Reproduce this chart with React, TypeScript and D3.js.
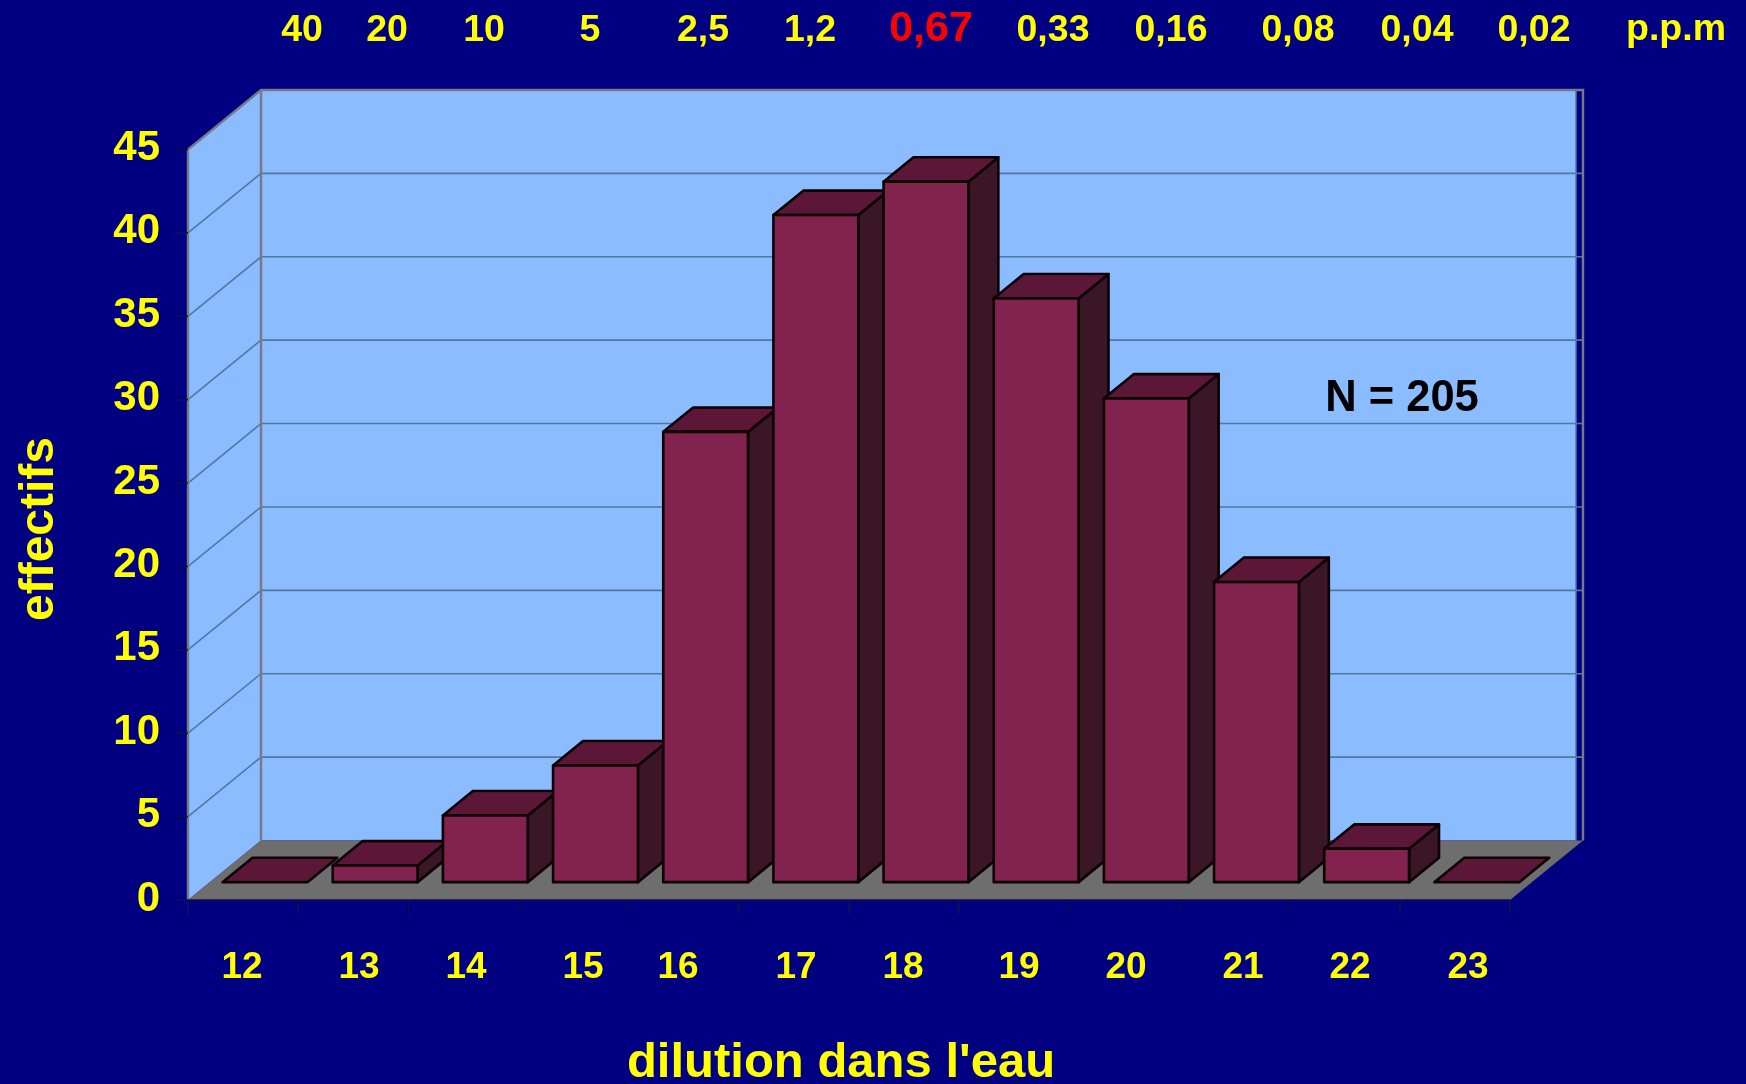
import React from "react";
import * as d3 from "d3";

const dilutions = ["12","13","14","15","16","17","18","19","20","21","22","23"];
const counts = [0,1,4,7,27,40,42,35,29,18,2,0];
const yTicks = [0,5,10,15,20,25,30,35,40,45];
const ppm = ["40","20","10","5","2,5","1,2","0,67","0,33","0,16","0,08","0,04","0,02"];
const highlighted = "0,67";

// hand-placed label centres of the original slide, in px
const ppmCenters = [302,387,484,590,703,810,931,1053,1171,1298,1417,1534];
const dilutionCenters = [242,359,466,583,678,796,903,1019,1126,1243,1350,1468];

const W = 1746, H = 1084;
const BG = "#000080", WALL = "#8abcff", FLOOR = "#6e6e6e", EDGE = "#767a88", GRID = "#55779f";
const FRONT = "#822050", TOP = "#5c1838", SIDE = "#3b1225", YEL = "#ffff00";
const FF = "'Liberation Sans', Arial, sans-serif";

const x = d3.scaleBand<string>().domain(dilutions).range([188,1510]).paddingInner(0.23).paddingOuter(0.115);
const xEdge = d3.scaleLinear().domain([0,dilutions.length]).range([188,1510]);
const y = d3.scaleLinear().domain([0,45]).range([900,149.5]);
const DX = 73, DY = -59.5;
const Z_FRONT = 0.3, Z_BACK = 0.71;
const P = (px:number, py:number, z:number):[number,number] => [px+DX*z, py+DY*z];
const poly = (pts:[number,number][]) => (d3.line()(pts) as string) + "Z";

export default function App() {
  const x0 = xEdge(0), x1 = xEdge(dilutions.length), y0 = y(0), yTop = y(45);
  return (
    <svg width={W} height={H} viewBox={`0 0 ${W} ${H}`} style={{position:"absolute",left:0,top:0,background:BG,fontFamily:FF,fontWeight:700}}>
      <defs>
        <filter id="soft" x="0" y="0" width="100%" height="100%" filterUnits="userSpaceOnUse" primitiveUnits="userSpaceOnUse">
          <feGaussianBlur stdDeviation="0.55"/>
        </filter>
      </defs>
      <rect width={W} height={H} fill={BG}/>
      <g filter="url(#soft)">
      {/* left wall */}
      <path d={poly([P(x0,y0,0),P(x0,yTop,0),P(x0,yTop,1),P(x0,y0,1)])} fill={WALL}/>
      {/* back wall */}
      <path d={poly([P(x0,y0,1),P(x0,yTop,1),[x1+DX-7,yTop+DY],[x1+DX-7,y0+DY]])} fill={WALL}/>
      {/* floor */}
      <path d={poly([P(x0,y0,0),P(x0,y0,1),P(x1,y0,1),P(x1,y0,0)])} fill={FLOOR}/>
      {/* grid */}
      {yTicks.filter(t=>t>0&&t<45).map(t=>(
        <path key={t} d={d3.line()([P(x0,y(t),0),P(x0,y(t),1),P(x1,y(t),1)]) as string} fill="none" stroke={GRID} strokeWidth={1.6}/>
      ))}
      {/* wall edges */}
      <path d={d3.line()([P(x0,y0,0),P(x0,yTop,0),P(x0,yTop,1),P(x1,yTop,1),P(x1,y0,1)]) as string} fill="none" stroke={EDGE} strokeWidth={2.4}/>
      <path d={d3.line()([P(x0,y0,1),P(x0,yTop,1)]) as string} fill="none" stroke={EDGE} strokeWidth={2.4}/>
      <path d={d3.line()([[x1+DX-7,yTop+DY],[x1+DX-7,y0+DY]]) as string} fill="none" stroke={GRID} strokeWidth={1.5}/>
      <path d={d3.line()([P(x0,y0,0),P(x1,y0,0)]) as string} fill="none" stroke="#10103a" strokeWidth={1.5}/>
      {/* ticks */}
      {yTicks.map(t=>(
        <line key={t} x1={x0-13} x2={x0} y1={y(t)} y2={y(t)} stroke="#10104a" strokeWidth={1.6}/>
      ))}
      {d3.range(dilutions.length+1).map(i=>(
        <line key={i} x1={xEdge(i)} x2={xEdge(i)} y1={y0} y2={y0+15} stroke="#10104a" strokeWidth={1.5}/>
      ))}
      {/* bars */}
      {dilutions.map((d,i)=>{
        const l = x(d)!, r = l + x.bandwidth(), b = y(0), t = y(counts[i]);
        const stroke = {stroke:"#080105",strokeWidth:2.6,strokeLinejoin:"round" as const};
        return (
          <g key={d}>
            {counts[i]>0 && <path d={poly([P(r,b,Z_FRONT),P(r,t,Z_FRONT),P(r,t,Z_BACK),P(r,b,Z_BACK)])} fill={SIDE} {...stroke}/>}
            <path d={poly([P(l,t,Z_FRONT),P(l,t,Z_BACK),P(r,t,Z_BACK),P(r,t,Z_FRONT)])} fill={TOP} {...stroke}/>
            {counts[i]>0 && <path d={poly([P(l,b,Z_FRONT),P(l,t,Z_FRONT),P(r,t,Z_FRONT),P(r,b,Z_FRONT)])} fill={FRONT} {...stroke}/>}
          </g>
        );
      })}
      {/* y tick labels */}
      {yTicks.map(t=>(
        <text key={t} x={160} y={y(t)+10.5} textAnchor="end" fontSize={42} fill={YEL}>{t}</text>
      ))}
      {/* x tick labels */}
      {dilutions.map((d,i)=>(
        <text key={d} x={dilutionCenters[i]} y={978} textAnchor="middle" fontSize={37} fill={YEL}>{d}</text>
      ))}
      {/* ppm labels */}
      {ppm.map((p,i)=>(
        <text key={p} x={ppmCenters[i]} y={p===highlighted?41:40.5} textAnchor="middle" fontSize={p===highlighted?43:37.5} fill={p===highlighted?"#ff0000":YEL}>{p}</text>
      ))}
      <text x={1676} y={40} textAnchor="middle" fontSize={37.5} fill={YEL}>p.p.m</text>
      <text x={1402} y={411} textAnchor="middle" fontSize={43.5} fill="#000">N = 205</text>
      <text x={841} y={1077} textAnchor="middle" fontSize={49} fill={YEL}>dilution dans l'eau</text>
      <text transform="translate(53,529) rotate(-90)" textAnchor="middle" fontSize={48} fill={YEL}>effectifs</text>
      </g>
    </svg>
  );
}
